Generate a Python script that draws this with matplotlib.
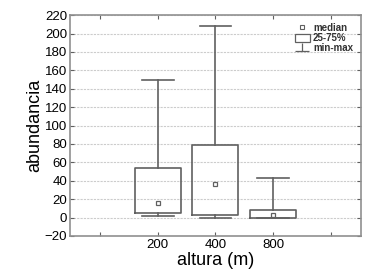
import matplotlib
matplotlib.use("Agg")
import matplotlib.pyplot as plt
from matplotlib.path import Path
from matplotlib.lines import Line2D
from matplotlib.patches import Patch

plt.rcParams['font.family'] = ['Liberation Sans', 'DejaVu Sans']

categories = ["200", "400", "800"]
positions = [2, 3, 4]
medians = [16, 37, 3]
q25 = [5, 3, 0]
q75 = [54, 79, 8]
mins = [2, 0, 0]
maxs = [150, 208, 43]

edge = "#606060"

fig = plt.figure(figsize=(3.72, 2.75), dpi=100)
ax = fig.add_axes([0.188, 0.142, 0.782, 0.803])

stats = []
for i in range(len(categories)):
    stats.append(dict(med=medians[i], q1=q25[i], q3=q75[i],
                      whislo=mins[i], whishi=maxs[i], fliers=[]))

ax.bxp(stats, positions=positions, widths=0.8, showfliers=False,
       boxprops=dict(color=edge, linewidth=1.2),
       whiskerprops=dict(color=edge, linewidth=1.2),
       capprops=dict(color=edge, linewidth=1.2),
       medianprops=dict(linewidth=0),
       capwidths=0.55, manage_ticks=False)
ax.plot(positions, medians, linestyle="none", marker="s", markersize=3.5,
        markerfacecolor="white", markeredgecolor=edge, markeredgewidth=0.9)

ax.set_xlim(0.48, 5.52)
ax.set_ylim(-20, 220)
ax.set_yticks(range(-20, 221, 20))
ax.set_xticks([1, 2, 3, 4, 5])
ax.set_xticklabels(["", categories[0], categories[1], categories[2], ""])
ax.tick_params(axis="both", labelsize=9.5, length=3, color=edge,
               direction="in", top=True, right=True, pad=2)
ax.grid(axis="y", color="#cccccc", linestyle=(0, (2, 1)), linewidth=0.8)
ax.set_axisbelow(True)
for s in ax.spines.values():
    s.set_color("#909090")
    s.set_linewidth(1.2)

ax.set_xlabel("altura (m)", fontsize=13, labelpad=1)
ax.set_ylabel("abundancia", fontsize=13, labelpad=1)

mm = Path([(0, 0.5), (0, -0.5), (-0.8, -0.5), (0.8, -0.5)],
          [Path.MOVETO, Path.LINETO, Path.MOVETO, Path.LINETO])
handles = [
    Line2D([], [], linestyle="none", marker="s", markersize=3,
           markerfacecolor="white", markeredgecolor=edge, markeredgewidth=0.8),
    Patch(facecolor="white", edgecolor=edge, linewidth=0.9),
    Line2D([], [], linestyle="none", marker=mm, markersize=10,
           markerfacecolor="none", markeredgecolor=edge, markeredgewidth=0.9),
]
leg = ax.legend(handles, ["median", "25-75%", "min-max"], loc="upper right",
                fontsize=7, frameon=False, handlelength=1.6, handleheight=0.9,
                handletextpad=0.3, labelspacing=0.0, borderaxespad=0.4)
for t in leg.get_texts():
    t.set_fontweight("bold")
    t.set_color("#333333")

fig.savefig("out.png", dpi=100)
